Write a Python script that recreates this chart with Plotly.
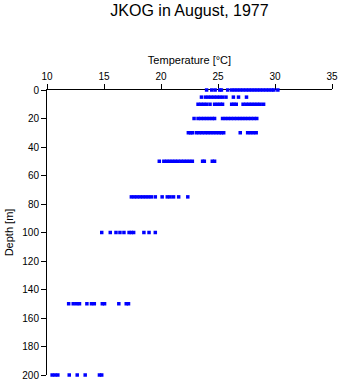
import plotly.graph_objects as go

# Temperature readings (°C) at each depth (m)
depths = [0, 5, 10, 20, 30, 50, 75, 100, 150, 200]
temps_0 = [24.0, 24.45, 24.75, 25.15, 25.3, 25.85, 26.2, 26.45, 26.7, 26.95, 27.2, 27.45, 27.7,
           27.95, 28.2, 28.45, 28.7, 28.95, 29.2, 29.45, 29.7, 29.9, 30.25]
temps_5 = [23.55, 23.9, 24.15, 24.4, 24.65, 24.9, 25.15, 25.4, 25.7, 26.35, 26.8, 27.5]
temps_10 = [23.25, 23.5, 23.75, 24.0, 24.3, 24.7, 24.95, 25.2, 25.4, 26.2, 26.4, 26.6, 27.2,
            27.45, 27.7, 27.95, 28.2, 28.45, 28.7, 29.0]
temps_20 = [22.9, 23.25, 23.5, 23.75, 24.0, 24.25, 24.5, 24.7, 25.4, 25.65, 25.9, 26.15, 26.4,
            26.65, 26.9, 27.15, 27.4, 27.65, 27.9, 28.15, 28.4]
temps_30 = [22.4, 22.6, 22.75, 23.1, 23.35, 23.6, 23.85, 24.1, 24.35, 24.6, 24.85, 25.1, 25.3,
            25.5, 26.95, 27.6, 27.85, 28.1, 28.35]
temps_50 = [19.85, 20.25, 20.5, 20.75, 21.0, 21.25, 21.5, 21.75, 22.0, 22.25, 22.5, 22.75,
            23.65, 23.8, 24.5, 24.7]
temps_75 = [17.4, 17.65, 17.9, 18.15, 18.4, 18.65, 18.9, 19.15, 19.5, 20.1, 20.55, 20.8, 21.1,
            21.55, 22.35]
temps_100 = [14.8, 15.55, 16.05, 16.4, 16.75, 17.2, 17.4, 17.6, 18.5, 18.95, 19.5]
temps_150 = [11.9, 12.3, 12.6, 12.85, 13.5, 13.9, 14.15, 14.85, 15.05, 16.3, 16.95, 17.15]
temps_200 = [10.45, 10.7, 10.95, 11.95, 12.65, 13.35, 14.6, 14.8]

all_temps = [temps_0, temps_5, temps_10, temps_20, temps_30, temps_50, temps_75,
             temps_100, temps_150, temps_200]

x_ticks = [10, 15, 20, 25, 30, 35]
y_ticks = [0, 20, 40, 60, 80, 100, 120, 140, 160, 180, 200]

xs, ys = [], []
for d, ts in zip(depths, all_temps):
    xs.extend(ts)
    ys.extend([d] * len(ts))

fig = go.Figure()
fig.add_trace(go.Scatter(
    x=xs, y=ys, mode="markers",
    marker=dict(symbol="square", size=3.5, color="#0000ff", line=dict(width=0)),
    cliponaxis=False, showlegend=False, hoverinfo="x+y",
))

font = "Liberation Sans, Arial, Helvetica, sans-serif"
fig.update_layout(
    width=341, height=384,
    margin=dict(l=47, r=9, t=90, b=9, autoexpand=False),
    paper_bgcolor="white", plot_bgcolor="white",
    font=dict(family=font, size=10, color="black"),
    title=dict(text="JKOG in August, 1977", x=0.5, xref="paper", y=1 - 10 / 384,
               yref="container", yanchor="middle", xanchor="center",
               font=dict(size=16, family=font, color="black")),
    xaxis=dict(side="top", range=[10, 35], tickvals=x_ticks, ticks="outside", ticklen=5,
               tickcolor="black", showline=True, linecolor="black", linewidth=1,
               showgrid=False, zeroline=False, layer="below traces", automargin=False,
               title=dict(text="Temperature [°C]", font=dict(size=11), standoff=4)),
    yaxis=dict(range=[200, 0], tickvals=y_ticks, ticks="outside", ticklen=5,
               tickcolor="black", showline=True, linecolor="black", linewidth=1,
               showgrid=False, zeroline=False, layer="below traces", automargin=False,
               title=dict(text="Depth [m]", font=dict(size=11), standoff=6)),
)

fig.write_html("out.html")
